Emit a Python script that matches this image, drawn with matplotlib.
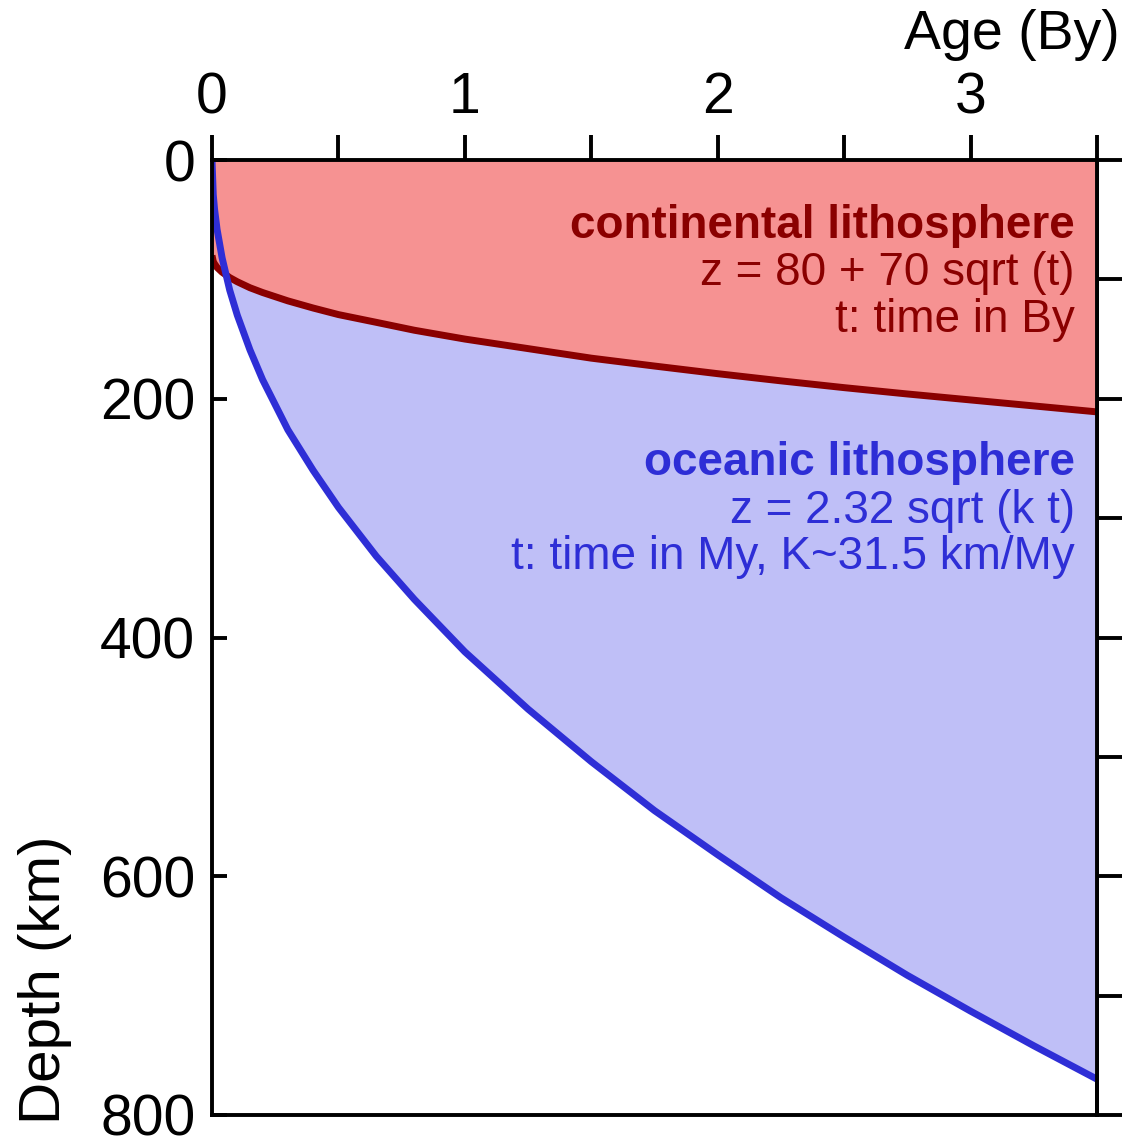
import matplotlib.pyplot as plt

plt.rcParams['font.family'] = ['Liberation Sans', 'DejaVu Sans']

# age in billion years, depth in km
age = [0, 0.005, 0.01, 0.02, 0.04, 0.07, 0.1, 0.15, 0.2, 0.3, 0.4, 0.5, 0.65, 0.8,
       1.0, 1.25, 1.5, 1.75, 2.0, 2.25, 2.5, 2.75, 3.0, 3.25, 3.5]
continental = [80, 85, 87, 90, 94, 98.5, 102, 107, 111, 118, 124, 129.5, 136, 142.6,
               150, 158, 166, 172.6, 179, 185, 190.7, 196, 201, 206, 211]
oceanic = [0, 29, 41, 58, 82, 109, 130, 159, 184, 226, 260, 291, 332, 368,
           412, 460, 504, 545, 582, 618, 651, 683, 713, 742, 770]

x_major = [0, 1, 2, 3]
x_minor = [0.5, 1.5, 2.5, 3.5]
y_left = [0, 200, 400, 600, 800]
y_right = [0, 100, 200, 300, 400, 500, 600, 700, 800]

red_fill = '#f69292'
blue_fill = '#bfbff7'
red_line = '#8a0000'
blue_line = '#2e2ed6'

fig = plt.figure(figsize=(11.28, 11.38), dpi=100)
ax = fig.add_axes([212/1128, 1-1115/1138, (1097-212)/1128, (1115-160)/1138])

# =======================
# fills and curves
# =======================
ax.fill_between(age, 0, continental, color=red_fill, lw=0)
ax.fill_between(age, continental, oceanic,
                where=[o >= c for o, c in zip(oceanic, continental)],
                interpolate=True, color=blue_fill, lw=0)
ax.plot(age, continental, color=red_line, lw=5, solid_capstyle='butt')
ax.plot(age, oceanic, color=blue_line, lw=5, solid_capstyle='butt')

ax.set_xlim(0, 3.5)
ax.set_ylim(800, 0)

# =======================
# axes, ticks
# =======================
for s in ax.spines.values():
    s.set_linewidth(2.8)
ax.xaxis.tick_top()
ax.set_xticks(x_major)
ax.set_xticks(x_minor, minor=True)
ax.tick_params(axis='x', which='both', direction='out', length=18, width=2.8,
               pad=7, labelsize=41)
ax.set_yticks(y_left)
ax.tick_params(axis='y', direction='in', length=11, width=2.8, pad=12, labelsize=41)

sec = ax.secondary_yaxis('right')
sec.set_yticks(y_right)
sec.tick_params(direction='out', length=18, width=2.8, labelright=False)
sec.spines['right'].set_linewidth(2.8)

fig.text(1120/1128, 1-35/1138, 'Age (By)', ha='right', va='center', fontsize=40)
fig.text(45/1128, 1-980/1138, 'Depth (km)', rotation=90, ha='center', va='center',
         fontsize=42)

# =======================
# annotations
# =======================
def yfrac(py):
    return 1 - (py - 160) / 955

tx = (1075 - 212) / 885
ax.text(tx, yfrac(226), 'continental lithosphere', transform=ax.transAxes,
        ha='right', va='center', fontsize=33, fontweight='bold', color=red_line)
ax.text(tx, yfrac(273), 'z = 80 + 70 sqrt (t)', transform=ax.transAxes,
        ha='right', va='center', fontsize=33, color=red_line)
ax.text(tx, yfrac(320), 't: time in By', transform=ax.transAxes,
        ha='right', va='center', fontsize=33, color=red_line)
ax.text(tx, yfrac(463), 'oceanic lithosphere', transform=ax.transAxes,
        ha='right', va='center', fontsize=33, fontweight='bold', color=blue_line)
ax.text(tx, yfrac(511), 'z = 2.32 sqrt (k t)', transform=ax.transAxes,
        ha='right', va='center', fontsize=33, color=blue_line)
ax.text(tx, yfrac(557), 't: time in My, K~31.5 km/My', transform=ax.transAxes,
        ha='right', va='center', fontsize=33, color=blue_line)

fig.savefig('out.png', dpi=100)
